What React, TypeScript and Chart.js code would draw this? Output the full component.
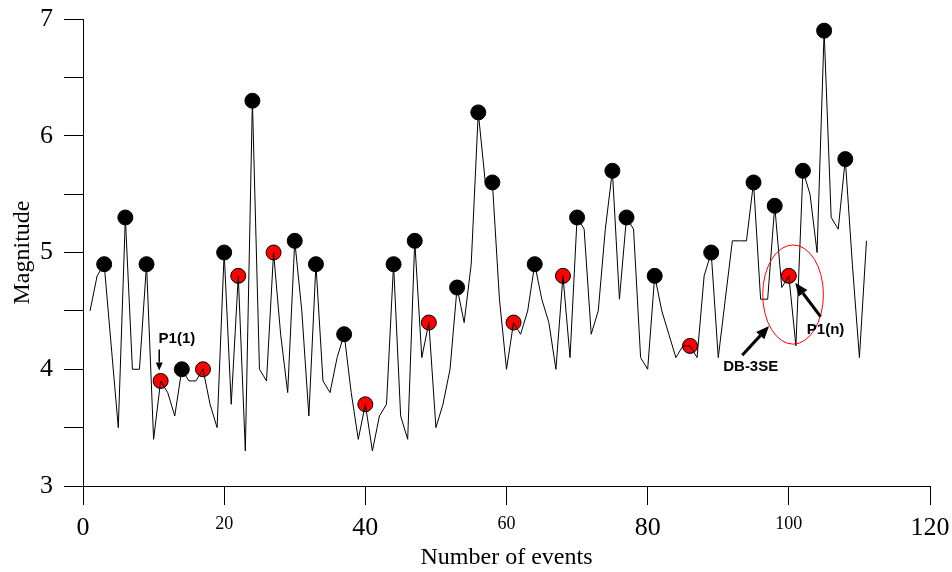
import React, { useEffect, useRef } from 'react';
import { Chart, registerables } from 'chart.js';

Chart.register(...registerables);

// Magnitude of events 1..111
const magnitudes: number[] = [
  4.5, 4.8, 4.9, 4.2, 3.5, 5.3, 4.0, 4.0, 4.9, 3.4,
  3.9, 3.8, 3.6, 4.0, 3.9, 3.9, 4.0, 3.7, 3.5, 5.0,
  3.7, 4.8, 3.3, 6.3, 4.0, 3.9, 5.0, 4.3, 3.8, 5.1,
  4.5, 3.6, 4.9, 3.9, 3.8, 4.1, 4.3, 3.8, 3.4, 3.7,
  3.3, 3.6, 3.7, 4.9, 3.6, 3.4, 5.1, 4.1, 4.4, 3.5,
  3.7, 4.0, 4.7, 4.4, 4.9, 6.2, 5.6, 5.6, 4.6, 4.0,
  4.4, 4.3, 4.5, 4.9, 4.6, 4.4, 4.0, 4.8, 4.1, 5.3,
  5.2, 4.3, 4.5, 5.2, 5.7, 4.6, 5.3, 5.2, 4.1, 4.0,
  4.8, 4.5, 4.3, 4.1, 4.2, 4.2, 4.1, 4.8, 5.0, 4.1,
  4.6, 5.1, 5.1, 5.1, 5.6, 4.6, 4.6, 5.4, 4.7, 4.8,
  4.2, 5.7, 5.5, 5.0, 6.9, 5.3, 5.2, 5.8, 4.9, 4.1,
  5.1,
];

// Event numbers marked with black and red circles
const blackEvents: number[] = [3, 6, 9, 14, 20, 24, 30, 33, 37, 44, 47, 53, 56, 58, 64, 70, 75, 77, 81, 89, 95, 98, 102, 105, 108];
const redEvents: number[] = [11, 17, 22, 27, 40, 49, 61, 68, 86, 100];

const xMin = 0;
const xMax = 120;
const xStep = 20;
const yMin = 3;
const yMax = 7;
const yStep = 0.5;
const largeXTicks: number[] = [0, 40, 80, 120];

const xTitle = 'Number of events';
const yTitle = 'Magnitude';

// Annotation anchors in data units
const p1FirstLabel = { text: 'P1(1)', x: 13.3, y: 4.26 };
const p1FirstArrow = { x1: 10.8, y1: 4.17, x2: 10.8, y2: 3.99 };
const dbLabel = { text: 'DB-3SE', x: 94.6, y: 4.02 };
const dbArrow = { x1: 93.4, y1: 4.12, x2: 97.2, y2: 4.37 };
const pnLabel = { text: 'P1(n)', x: 105.2, y: 4.34 };
const pnArrow = { x1: 104.5, y1: 4.45, x2: 100.9, y2: 4.74 };
const ellipse = { cx: 100.6, cy: 4.64, rx: 4.3, ry: 0.425 };

function drawArrow(ctx: CanvasRenderingContext2D, x1: number, y1: number, x2: number, y2: number, lw: number, headLen: number, headW: number) {
  const ang = Math.atan2(y2 - y1, x2 - x1);
  const bx = x2 - headLen * Math.cos(ang);
  const by = y2 - headLen * Math.sin(ang);
  ctx.save();
  ctx.strokeStyle = '#000';
  ctx.fillStyle = '#000';
  ctx.lineWidth = lw;
  ctx.beginPath();
  ctx.moveTo(x1, y1);
  ctx.lineTo(bx, by);
  ctx.stroke();
  ctx.beginPath();
  ctx.moveTo(x2, y2);
  ctx.lineTo(bx + (headW / 2) * Math.sin(ang), by - (headW / 2) * Math.cos(ang));
  ctx.lineTo(bx - (headW / 2) * Math.sin(ang), by + (headW / 2) * Math.cos(ang));
  ctx.closePath();
  ctx.fill();
  ctx.restore();
}

const annotationPlugin = {
  id: 'annotations',
  afterDatasetsDraw(chart: any) {
    const ctx: CanvasRenderingContext2D = chart.ctx;
    const xs = chart.scales.x;
    const ys = chart.scales.y;
    const px = (v: number) => xs.getPixelForValue(v);
    const py = (v: number) => ys.getPixelForValue(v);

    // ellipse
    ctx.save();
    ctx.strokeStyle = '#ff0000';
    ctx.lineWidth = 1;
    ctx.beginPath();
    const cx = px(ellipse.cx);
    const cy = py(ellipse.cy);
    const rx = Math.abs(px(ellipse.cx + ellipse.rx) - cx);
    const ry = Math.abs(py(ellipse.cy + ellipse.ry) - cy);
    ctx.ellipse(cx, cy, rx, ry, 0, 0, Math.PI * 2);
    ctx.stroke();
    ctx.restore();

    drawArrow(ctx, px(p1FirstArrow.x1), py(p1FirstArrow.y1), px(p1FirstArrow.x2), py(p1FirstArrow.y2), 1.5, 8, 7);
    drawArrow(ctx, px(dbArrow.x1), py(dbArrow.y1), px(dbArrow.x2), py(dbArrow.y2), 3, 13, 11);
    drawArrow(ctx, px(pnArrow.x1), py(pnArrow.y1), px(pnArrow.x2), py(pnArrow.y2), 3, 13, 11);

    ctx.save();
    ctx.fillStyle = '#000';
    ctx.font = 'bold 15px "Liberation Sans", Arial, sans-serif';
    ctx.textAlign = 'center';
    ctx.textBaseline = 'middle';
    for (const l of [p1FirstLabel, dbLabel, pnLabel]) {
      ctx.fillText(l.text, px(l.x), py(l.y));
    }
    ctx.restore();
  },
};

export default function App() {
  const canvasRef = useRef<HTMLCanvasElement | null>(null);

  useEffect(() => {
    const canvas = canvasRef.current;
    if (!canvas) return;

    const lineData = magnitudes.map((m, i) => ({ x: i + 1, y: m }));
    const blackData = blackEvents.map((e) => ({ x: e, y: magnitudes[e - 1] }));
    const redData = redEvents.map((e) => ({ x: e, y: magnitudes[e - 1] }));

    const serif = '"Liberation Serif", "Times New Roman", serif';

    const chart = new Chart(canvas, {
      type: 'line',
      data: {
        datasets: [
          {
            type: 'line',
            data: lineData,
            borderColor: '#000',
            borderWidth: 1,
            pointRadius: 0,
            tension: 0,
            fill: false,
          },
          {
            type: 'scatter',
            data: blackData,
            backgroundColor: '#000',
            borderColor: '#000',
            borderWidth: 1,
            pointRadius: 7.5,
          },
          {
            type: 'scatter',
            data: redData,
            backgroundColor: '#ff0000',
            borderColor: '#000',
            borderWidth: 1,
            pointRadius: 7.5,
          },
        ],
      } as any,
      options: {
        responsive: false,
        animation: false,
        devicePixelRatio: 1,
        layout: { padding: { top: 19, right: 22, left: 0, bottom: 0 } },
        plugins: {
          legend: { display: false },
          tooltip: { enabled: false },
        },
        scales: {
          x: {
            type: 'linear',
            min: xMin,
            max: xMax,
            afterFit: (s: any) => {
              s.height = 86;
              s.paddingLeft = 0;
              s.paddingRight = 0;
            },
            ticks: {
              stepSize: xStep,
              color: '#000',
              padding: 8,
              maxRotation: 0,
              autoSkip: false,
              font: (c: any) => ({
                family: serif,
                size: c.tick && largeXTicks.includes(c.tick.value) ? 26 : 18,
              }),
            },
            grid: { drawOnChartArea: false, drawTicks: true, tickLength: 19, color: '#000', lineWidth: 1 },
            border: { display: true, color: '#000', width: 1 },
            title: {
              display: true,
              text: xTitle,
              color: '#000',
              font: { family: serif, size: 24 },
              padding: { top: 0, bottom: 0 },
            },
          },
          y: {
            type: 'linear',
            min: yMin,
            max: yMax,
            afterFit: (s: any) => {
              s.width = 83;
              s.paddingTop = 0;
              s.paddingBottom = 0;
            },
            ticks: {
              stepSize: yStep,
              color: '#000',
              padding: 11,
              font: { family: serif, size: 26 },
              callback: (v: any) => (Number.isInteger(v) ? String(v) : ''),
            },
            grid: { drawOnChartArea: false, drawTicks: true, tickLength: 19, color: '#000', lineWidth: 1 },
            border: { display: true, color: '#000', width: 1 },
            title: {
              display: true,
              text: yTitle,
              color: '#000',
              font: { family: serif, size: 24 },
              padding: { top: 8, bottom: 0 },
            },
          },
        },
      } as any,
      plugins: [annotationPlugin],
    });

    return () => chart.destroy();
  }, []);

  return (
    <div style={{ position: 'fixed', left: 0, top: 0, width: 952, height: 572, background: '#fff' }}>
      <canvas ref={canvasRef} width={952} height={572} style={{ display: 'block' }} />
    </div>
  );
}
